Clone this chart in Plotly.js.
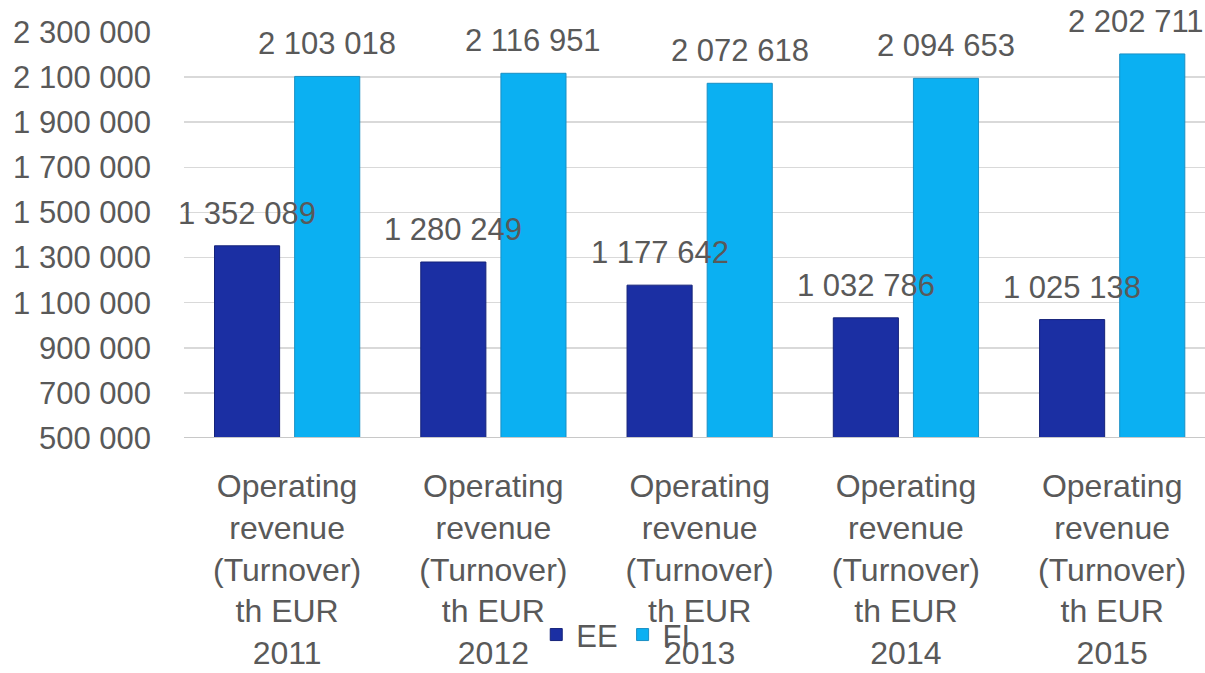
<!DOCTYPE html>
<html>
<head>
<meta charset="utf-8">
<script src="https://cdn.plot.ly/plotly-3.0.1.min.js"></script>
<style>
html,body{margin:0;padding:0;background:#fff;}
#chart{width:1205px;height:673px;}
</style>
</head>
<body>
<div id="chart"></div>
<script>
const categories = [
  "Operating<br>revenue<br>(Turnover)<br>th EUR<br>2011",
  "Operating<br>revenue<br>(Turnover)<br>th EUR<br>2012",
  "Operating<br>revenue<br>(Turnover)<br>th EUR<br>2013",
  "Operating<br>revenue<br>(Turnover)<br>th EUR<br>2014",
  "Operating<br>revenue<br>(Turnover)<br>th EUR<br>2015"
];
const seriesNames = ["EE", "FI"];
const eeValues = [1352089, 1280249, 1177642, 1032786, 1025138];
const fiValues = [2103018, 2116951, 2072618, 2094653, 2202711];
const tickValues = [500000, 700000, 900000, 1100000, 1300000, 1500000, 1700000, 1900000, 2100000, 2300000];

const FONT = "'Liberation Sans Narrow', 'Arial Narrow', 'Liberation Sans', sans-serif";
const TEXT = "#595959";

function fmt(v){ return String(v).replace(/\B(?=(\d{3})+(?!\d))/g, " "); }

const traces = [
  {type:"bar", name:seriesNames[0], x:categories, y:eeValues,
   marker:{color:"#1b2fa3", line:{color:"#15237a", width:1}}, hoverinfo:"y"},
  {type:"bar", name:seriesNames[1], x:categories, y:fiValues,
   marker:{color:"#0bb0f2", line:{color:"#1a8fc4", width:1}}, hoverinfo:"y"}
];

const offset = 0.194;
const annotations = [];
eeValues.forEach((v,i)=>annotations.push({x:i-offset, y:v, xref:"x", yref:"y", text:fmt(v),
  showarrow:false, yanchor:"bottom", yshift:13, font:{family:FONT, size:31, color:TEXT}}));
fiValues.forEach((v,i)=>annotations.push({x:i+offset, y:v, xref:"x", yref:"y", text:fmt(v),
  showarrow:false, yanchor:"bottom", yshift:13, xshift:(i===fiValues.length-1?-16:0),
  font:{family:FONT, size:31, color:TEXT}}));

const layout = {
  width:1205, height:673,
  margin:{l:184, r:0, t:32, b:235},
  paper_bgcolor:"#fff", plot_bgcolor:"#fff",
  barmode:"group", bargap:0.223, bargroupgap:0.1875,
  font:{family:FONT, size:31, color:TEXT},
  showlegend:true,
  legend:{orientation:"h", x:0.345, xanchor:"left", y:-0.485, yanchor:"middle",
    font:{family:FONT, size:31, color:TEXT}, bgcolor:"rgba(0,0,0,0)", itemwidth:30, tracegroupgap:0},
  xaxis:{type:"category", range:[-0.5, 4.45], showgrid:false, zeroline:false,
    showline:false, ticks:"outside", ticklen:20, tickcolor:"rgba(0,0,0,0)",
    tickfont:{family:FONT, size:32, color:TEXT}},
  yaxis:{range:[500000, 2300000], tickvals:tickValues, ticktext:tickValues.map(fmt),
    showgrid:true, gridcolor:"#d9d9d9", gridwidth:1.5, zeroline:false,
    showline:false, ticks:"", ticklabelstandoff:32,
    tickfont:{family:FONT, size:31, color:TEXT}},
  shapes:[{type:"line", xref:"paper", yref:"y", x0:0, x1:1, y0:500000, y1:500000,
    line:{color:"#c8c8c8", width:2}}],
  annotations:annotations
};

Plotly.newPlot("chart", traces, layout, {displayModeBar:false, staticPlot:true});
</script>
</body>
</html>
